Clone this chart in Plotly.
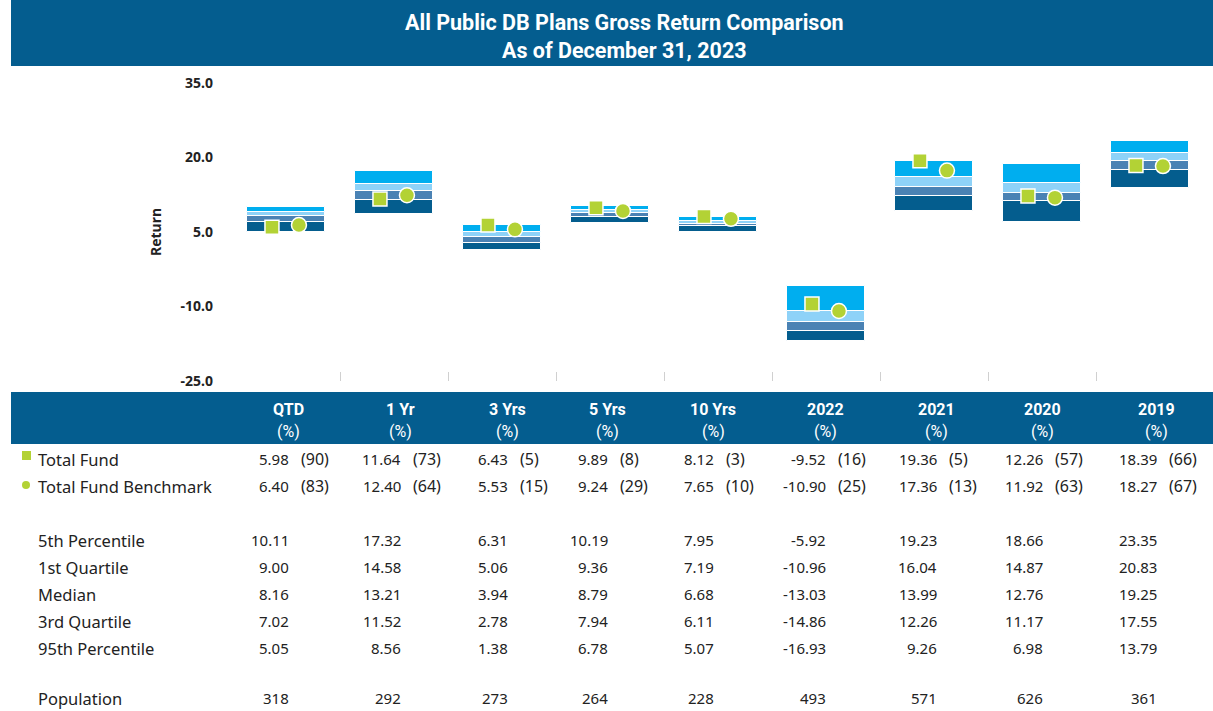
import plotly.graph_objects as go

# ---------------- data ----------------
categories = ["QTD", "1 Yr", "3 Yrs", "5 Yrs", "10 Yrs", "2022", "2021", "2020", "2019"]
total_fund = [5.98, 11.64, 6.43, 9.89, 8.12, -9.52, 19.36, 12.26, 18.39]
total_fund_rank = [90, 73, 5, 8, 3, 16, 5, 57, 66]
benchmark = [6.40, 12.40, 5.53, 9.24, 7.65, -10.90, 17.36, 11.92, 18.27]
benchmark_rank = [83, 64, 15, 29, 10, 25, 13, 63, 67]
pct5 = [10.11, 17.32, 6.31, 10.19, 7.95, -5.92, 19.23, 18.66, 23.35]
quart1 = [9.00, 14.58, 5.06, 9.36, 7.19, -10.96, 16.04, 14.87, 20.83]
median = [8.16, 13.21, 3.94, 8.79, 6.68, -13.03, 13.99, 12.76, 19.25]
quart3 = [7.02, 11.52, 2.78, 7.94, 6.11, -14.86, 12.26, 11.17, 17.55]
pct95 = [5.05, 8.56, 1.38, 6.78, 5.07, -16.93, 9.26, 6.98, 13.79]
population = [318, 292, 273, 264, 228, 493, 571, 626, 361]
y_ticks = [35.0, 20.0, 5.0, -10.0, -25.0]
y_tick_labels = ["35.0", "20.0", "5.0", "-10.0", "-25.0"]

# ---------------- styles / layout ----------------
W, H = 1213, 711
PL, PR, PT, PB = 232, 9, 83, 330          # plot area margins (px)
PW, PH = W - PL - PR, H - PT - PB
NAVY = "#045D8F"
C_TOP = "#00AEEF"
C_Q1 = "#8ED2F8"
C_MED = "#4A82B4"
C_Q3 = "#045D8E"
GREEN = "#B3D235"
TXT = "#222222"
BODY_FONT = "Noto Sans"
HEAD_FONT = "Liberation Sans Narrow, Roboto, sans-serif"


def px(x):
    return (x - PL) / PW


def py(y):
    return (PH + PT - y) / PH


xs = list(range(len(categories)))
fig = go.Figure()

bands = [
    (quart3, pct95, C_Q3),
    (median, quart3, C_MED),
    (quart1, median, C_Q1),
    (pct5, quart1, C_TOP),
]
for hi, lo, col in bands:
    fig.add_trace(go.Bar(
        x=xs, y=[h - l for h, l in zip(hi, lo)], base=lo, width=0.73,
        marker=dict(color=col, line=dict(color="white", width=1)),
        showlegend=False, hoverinfo="skip"))

fig.add_trace(go.Scatter(
    x=[i - 0.13 for i in xs], y=total_fund, mode="markers", name="Total Fund",
    marker=dict(symbol="square", size=14, color=GREEN, line=dict(color="white", width=1.5)),
    showlegend=False))
fig.add_trace(go.Scatter(
    x=[i + 0.12 for i in xs], y=benchmark, mode="markers", name="Total Fund Benchmark",
    marker=dict(symbol="circle", size=15, color=GREEN, line=dict(color="white", width=1.5)),
    showlegend=False))

fig.update_layout(
    width=W, height=H, margin=dict(l=PL, r=PR, t=PT, b=PB),
    paper_bgcolor="white", plot_bgcolor="white", barmode="overlay", bargap=0,
    xaxis=dict(range=[-0.5, len(categories) - 0.5], showgrid=False, zeroline=False,
               showline=False, showticklabels=False, ticks="inside", ticklen=9,
               tickcolor="#D0D0D0", tickwidth=1,
               tickvals=[i + 0.5 for i in xs[:-1]]),
    yaxis=dict(range=[-25, 35], tickvals=y_ticks, ticktext=y_tick_labels, showgrid=False,
               zeroline=False, showline=False, ticks="", ticklabelstandoff=18,
               tickfont=dict(family=BODY_FONT, size=14, color=TXT, weight="bold")),
)

shapes = []
ann = []
# title band
shapes.append(dict(type="rect", xref="paper", yref="paper", x0=px(11), x1=px(W), y0=py(0), y1=py(66),
                   fillcolor=NAVY, line=dict(width=0), layer="below"))
ann.append(dict(text="<b>All Public DB Plans Gross Return Comparison</b>", x=px(624), y=py(22)))
ann.append(dict(text="<b>As of December 31, 2023</b>", x=px(624), y=py(50)))
for a in ann:
    a.update(xref="paper", yref="paper", showarrow=False, xanchor="center", yanchor="middle",
             font=dict(family=HEAD_FONT, size=21.5, color="white"))

# y axis title
ann.append(dict(text="<b>Return</b>", x=px(155), y=py(232), xref="paper", yref="paper", showarrow=False,
                textangle=-90, xanchor="center", yanchor="middle",
                font=dict(family=BODY_FONT, size=14, color=TXT)))

# table header band
shapes.append(dict(type="rect", xref="paper", yref="paper", x0=px(11), x1=px(W), y0=py(392), y1=py(444),
                   fillcolor=NAVY, line=dict(width=0), layer="below"))

col_x = [288, 400, 507, 607, 713, 825, 936, 1042, 1156]
label_x = 37


def t(text, x, y, anchor="left", size=15, color=TXT, family=BODY_FONT):
    ann.append(dict(text=text, x=px(x), y=py(y), xref="paper", yref="paper", showarrow=False,
                    xanchor=anchor, yanchor="middle", borderpad=0,
                    font=dict(family=family, size=size, color=color)))


for cat, cx in zip(categories, col_x):
    t("<b>" + cat + "</b>", cx, 409, "center", 16, "white", HEAD_FONT)
    t("(%)", cx, 431, "center", 16, "white", HEAD_FONT)

# legend symbols in table
shapes.append(dict(type="rect", xref="paper", yref="paper", x0=px(22), x1=px(31), y0=py(451), y1=py(460),
                   fillcolor=GREEN, line=dict(width=0)))
shapes.append(dict(type="circle", xref="paper", yref="paper", x0=px(22), x1=px(30), y0=py(481), y1=py(489),
                   fillcolor=GREEN, line=dict(width=0)))

LABEL_SIZE = 16.5
rows_pair = [("Total Fund", total_fund, total_fund_rank, 459),
             ("Total Fund Benchmark", benchmark, benchmark_rank, 486)]
for label, vals, ranks, y in rows_pair:
    t(label, label_x, y, size=LABEL_SIZE)
    for v, r, cx in zip(vals, ranks, col_x):
        t(f"{v:.2f}", cx + 2, y, "right")
        t(f"({r})", cx + 12, y, "left", size=16)

rows = [("5th Percentile", pct5, 540), ("1st Quartile", quart1, 567), ("Median", median, 594),
        ("3rd Quartile", quart3, 621), ("95th Percentile", pct95, 648)]
for label, vals, y in rows:
    t(label, label_x, y, size=LABEL_SIZE)
    for v, cx in zip(vals, col_x):
        t(f"{v:.2f}", cx + 2, y, "right")

t("Population", label_x, 698, size=LABEL_SIZE)
for v, cx in zip(population, col_x):
    t(str(v), cx + 2, 698, "right")

fig.update_layout(shapes=shapes, annotations=ann)

fig.write_html("out.html", config={"displayModeBar": False},
               post_script="document.body.style.margin='0';document.body.style.overflow='hidden';")
